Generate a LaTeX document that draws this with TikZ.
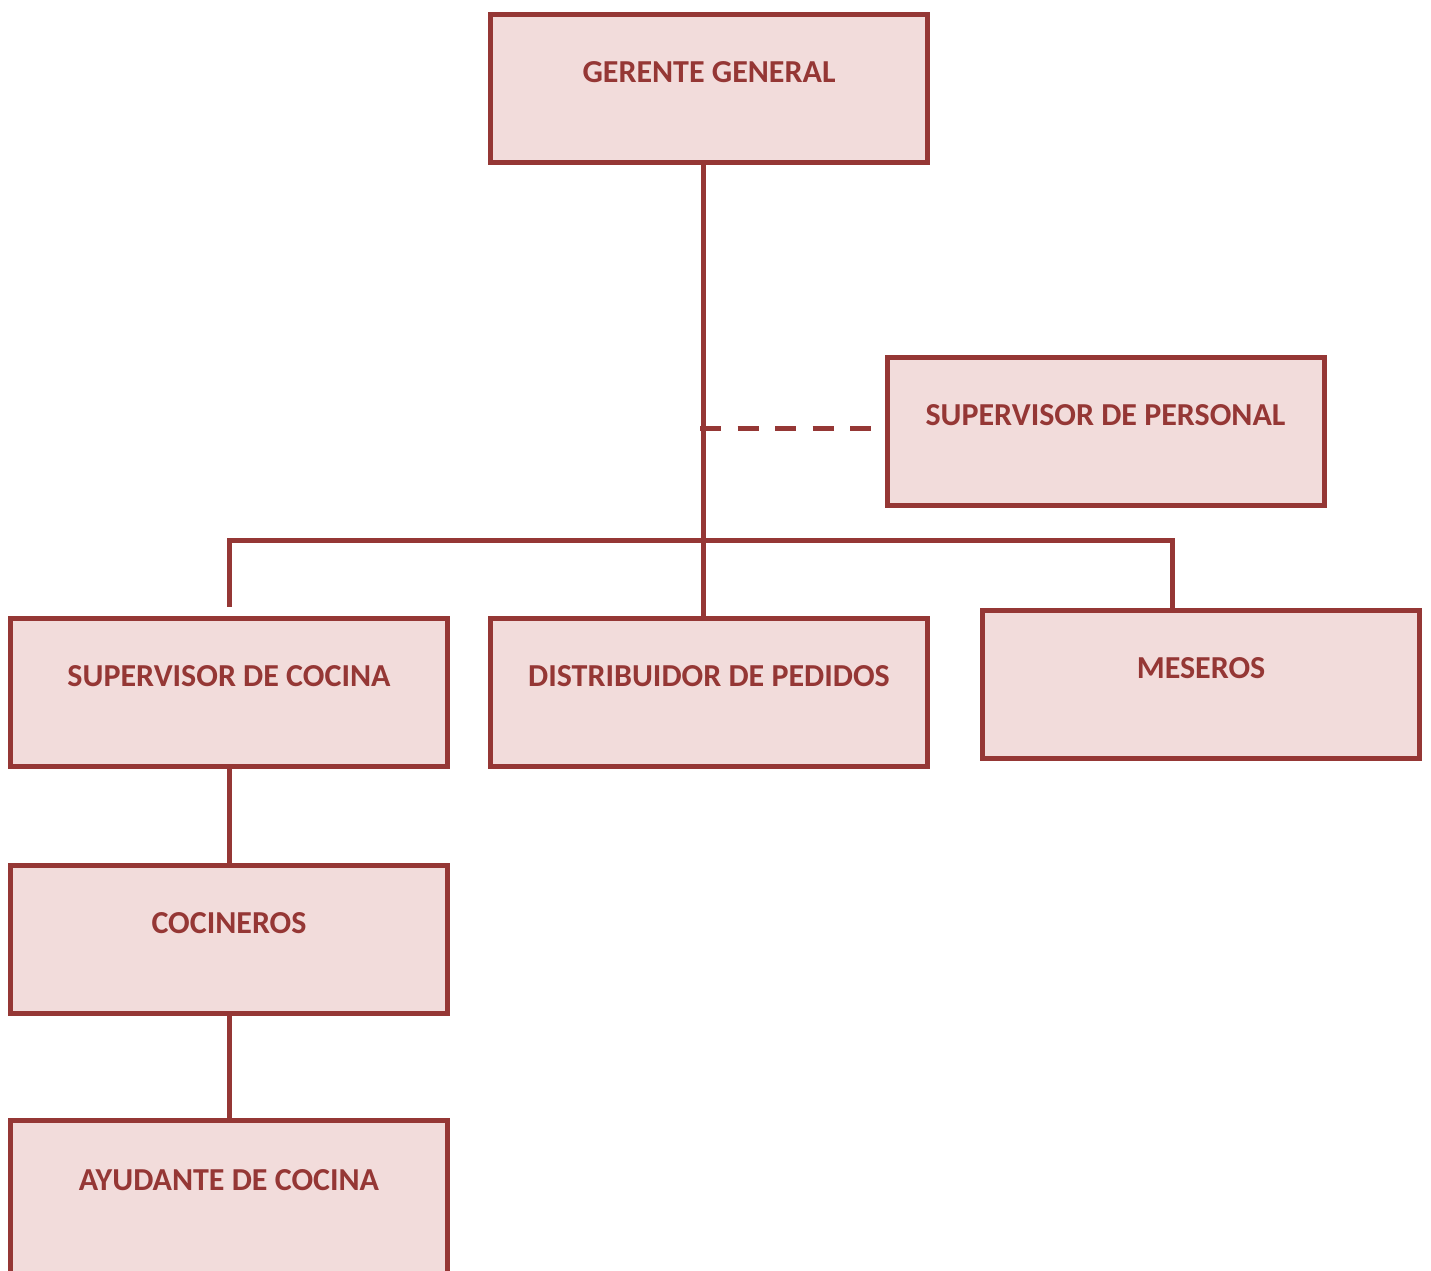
\documentclass[tikz,border=0pt]{standalone}
\usepackage{fontspec}
\setmainfont{Carlito}
\definecolor{dred}{HTML}{953735}
\definecolor{boxfill}{HTML}{F2DCDB}
\begin{document}
\begin{tikzpicture}[x=1pt,y=-1pt,
  orgbox/.style={draw=dred, line width=5pt, fill=boxfill,
    minimum width=437pt, minimum height=148pt, inner sep=0pt,
    font=\bfseries\fontsize{32}{32}\selectfont, text=dred,
    text height=20.5pt, text depth=32pt},
  link/.style={draw=dred, line width=5pt}]
\clip (0,0) rectangle (1431,1270);
\fill[white] (0,0) rectangle (1431,1270);

\node[orgbox] (gerente)  at (709,88)     {GERENTE GENERAL};
\node[orgbox] (personal) at (1105.5,431.5) {SUPERVISOR DE PERSONAL};
\node[orgbox] (cocina)   at (229,692)    {SUPERVISOR DE COCINA};
\node[orgbox] (distrib)  at (709,692)    {DISTRIBUIDOR DE PEDIDOS};
\node[orgbox] (meseros)  at (1201,684.5) {MESEROS};
\node[orgbox] (cocineros) at (229,939.5) {COCINEROS};
\node[orgbox, minimum height=160pt, text depth=40pt] (ayudante) at (229,1200) {AYUDANTE DE COCINA};

\coordinate (tk) at (703,540);
\coordinate (mx) at (1172,540);
\coordinate (dy) at (700,428);

\draw[link] (gerente.south -| tk) -- (distrib.north -| tk);
\draw[link] ([yshift=9pt]cocina.north) |- (mx) -- (mx |- meseros.north);
\draw[link, dash pattern=on 21pt off 16.5pt] (dy) -- ([xshift=-12pt]dy -| personal.west);
\draw[link] (cocina.south) -- (cocineros.north);
\draw[link] (cocineros.south) -- (ayudante.north);
\end{tikzpicture}
\end{document}
